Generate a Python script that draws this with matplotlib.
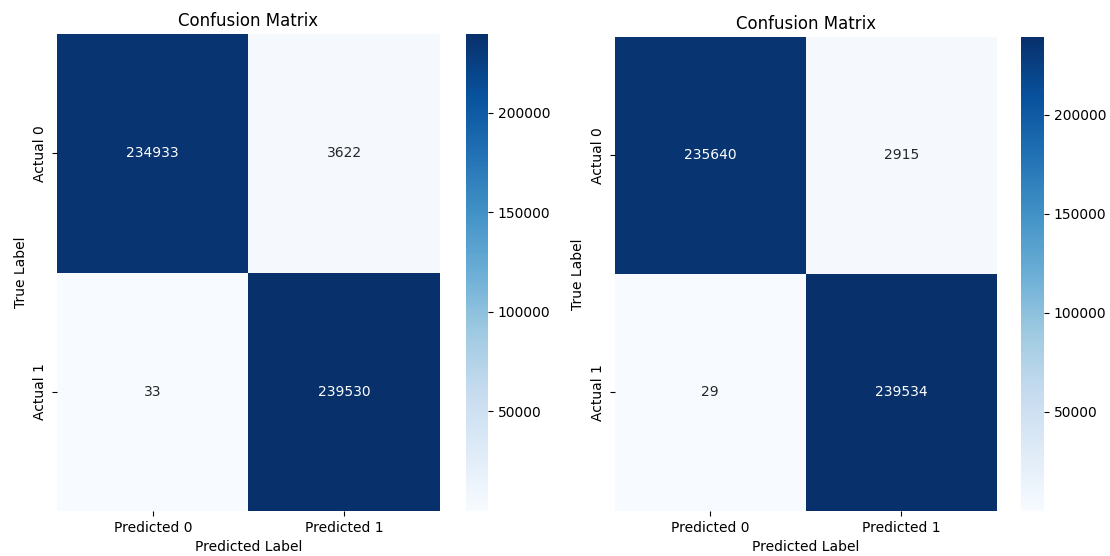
import matplotlib
matplotlib.use("Agg")
import matplotlib.pyplot as plt
import numpy as np
import seaborn as sns

# Confusion matrix counts for the two models
model_a_counts = [[234933, 3622],
                  [33, 239530]]
model_b_counts = [[235640, 2915],
                  [29, 239534]]

x_labels = ["Predicted 0", "Predicted 1"]
y_labels = ["Actual 0", "Actual 1"]

W, H = 1110, 556
fig = plt.figure(figsize=(W / 100, H / 100), dpi=100)


def px_axes(x0, y0, x1, y1):
    """Add axes from pixel edges (top-left origin)."""
    return fig.add_axes([x0 / W, (H - y1) / H, (x1 - x0) / W, (y1 - y0) / H])


panels = [
    (model_a_counts, (57, 34, 440, 511), (466, 34, 488, 510.5)),
    (model_b_counts, (614.5, 36.5, 997, 511), (1021, 36.5, 1044, 511)),
]

for counts, hm_box, cb_box in panels:
    ax = px_axes(*hm_box)
    cax = px_axes(*cb_box)
    sns.heatmap(np.array(counts), annot=True, fmt="d", cmap="Blues",
                xticklabels=x_labels, yticklabels=y_labels,
                ax=ax, cbar_ax=cax)
    ax.set_title("Confusion Matrix", fontsize=12, pad=5.5)
    ax.set_xlabel("Predicted Label")
    ax.set_ylabel("True Label")
    cax.tick_params(labelsize=10)

fig.savefig("out.png", dpi=100)
